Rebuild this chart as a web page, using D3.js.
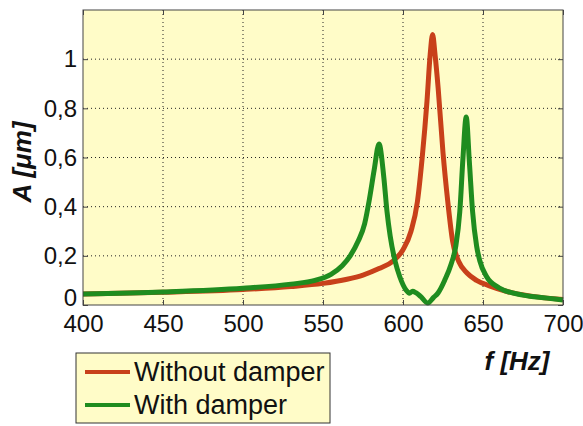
<!DOCTYPE html>
<html>
<head>
<meta charset="utf-8">
<script src="https://cdn.jsdelivr.net/npm/d3@7"></script>
<style>
  body { margin: 0; background: #fff; }
  #vis { width: 583px; height: 426px; }
  text { font-family: Arial, "Liberation Sans", sans-serif; fill: #111; }
</style>
</head>
<body>
<div id="vis"></div>
<script>
// frequency response
var freqNo = [400, 450, 500, 530, 550, 565, 575, 585, 594, 600, 605, 609, 612, 615, 617, 618.5, 620, 622, 625, 628, 631, 635, 640, 646, 654, 665, 680, 700];
var ampNo  = [0.045, 0.052, 0.063, 0.075, 0.088, 0.105, 0.122, 0.148, 0.18, 0.225, 0.30, 0.42, 0.60, 0.83, 1.02, 1.10, 1.02, 0.88, 0.62, 0.42, 0.26, 0.175, 0.13, 0.10, 0.078, 0.055, 0.036, 0.022];

var freqWith = [400, 450, 500, 530, 545, 555, 562, 567, 572, 576, 579, 582, 585, 588, 590, 592, 595, 598, 602, 604, 606, 608, 611, 615.5, 619, 622, 626, 630, 633, 635.5, 637.5, 639.5, 641.5, 643.5, 646, 648, 652, 660, 675, 690, 700];
var ampWith  = [0.045, 0.053, 0.068, 0.085, 0.10, 0.125, 0.16, 0.20, 0.26, 0.33, 0.43, 0.55, 0.655, 0.52, 0.38, 0.28, 0.18, 0.115, 0.06, 0.048, 0.056, 0.05, 0.035, 0.008, 0.03, 0.05, 0.10, 0.165, 0.24, 0.38, 0.60, 0.765, 0.58, 0.38, 0.24, 0.18, 0.118, 0.07, 0.04, 0.028, 0.02];

var xTicks = [400, 450, 500, 550, 600, 650, 700];
var yTicks = [0, 0.2, 0.4, 0.6, 0.8, 1];
var seriesNames = ['Without damper', 'With damper'];
var seriesColours = ['#c8401a', '#1f8c1f'];

var margin = { top: 10, right: 20, bottom: 121, left: 83 };
var width = 583 - margin.left - margin.right;
var height = 426 - margin.top - margin.bottom;

var svg = d3.select('#vis')
    .append('svg')
    .attr('width', 583)
    .attr('height', 426);

var g = svg.append('g')
    .attr('transform', 'translate(' + margin.left + ',' + margin.top + ')');

var x = d3.scaleLinear().domain([400, 700]).range([0, width]);
var y = d3.scaleLinear().domain([0, 1.2]).range([height, 0]);

g.append('rect')
    .attr('width', width)
    .attr('height', height)
    .attr('fill', '#fffcc8');

// dotted grid
g.selectAll('.vgrid')
    .data(xTicks.slice(1, -1))
    .enter().append('line')
    .attr('x1', d => x(d)).attr('x2', d => x(d))
    .attr('y1', 0).attr('y2', height)
    .attr('stroke', '#222').attr('stroke-width', 1)
    .attr('stroke-dasharray', '1,3');

g.selectAll('.hgrid')
    .data(yTicks.slice(1))
    .enter().append('line')
    .attr('x1', 0).attr('x2', width)
    .attr('y1', d => y(d)).attr('y2', d => y(d))
    .attr('stroke', '#222').attr('stroke-width', 1)
    .attr('stroke-dasharray', '1,3');

// curves
var line = d3.line()
    .x(d => x(d[0]))
    .y(d => y(d[1]))
    .curve(d3.curveMonotoneX);

var curves = [d3.zip(freqNo, ampNo), d3.zip(freqWith, ampWith)];

g.selectAll('.curve')
    .data(curves)
    .enter().append('path')
    .attr('class', 'curve')
    .attr('d', line)
    .attr('fill', 'none')
    .attr('stroke', (d, i) => seriesColours[i])
    .attr('stroke-width', 5)
    .attr('stroke-linejoin', 'round');

// axes, ticks inside like matlab
var xAxis = d3.axisBottom(x).tickValues(xTicks).tickSizeInner(-5).tickSizeOuter(0).tickPadding(10);
var yAxis = d3.axisLeft(y).tickValues(yTicks).tickSizeInner(-5).tickSizeOuter(0).tickPadding(6)
    .tickFormat(d => String(d).replace('.', ','));

var gx = g.append('g')
    .attr('transform', 'translate(0,' + height + ')')
    .call(xAxis);
var gy = g.append('g').call(yAxis);
var gxTop = g.append('g').call(d3.axisTop(x).tickValues(xTicks).tickSizeInner(-5).tickSizeOuter(0).tickFormat(''));
var gyRight = g.append('g')
    .attr('transform', 'translate(' + width + ',0)')
    .call(d3.axisRight(y).tickValues(yTicks).tickSizeInner(-5).tickSizeOuter(0).tickFormat(''));

[gx, gy, gxTop, gyRight].forEach(function(a) {
    a.selectAll('.domain').remove();
    a.selectAll('line').attr('stroke', '#444');
});

gx.selectAll('text').attr('font-size', 24).attr('font-family', 'Arial, "Liberation Sans", sans-serif').attr('fill', '#111');
gy.selectAll('text').attr('font-size', 24).attr('font-family', 'Arial, "Liberation Sans", sans-serif').attr('fill', '#111')
    .attr('dy', d => d === 0 ? '-0.0em' : '0.32em');

g.append('rect')
    .attr('width', width)
    .attr('height', height)
    .attr('fill', 'none')
    .attr('stroke', '#444')
    .attr('stroke-width', 1);

// axis titles
svg.append('text')
    .attr('x', 517)
    .attr('y', 370)
    .attr('text-anchor', 'middle')
    .attr('font-size', 26)
    .attr('font-weight', 'bold')
    .attr('font-style', 'italic')
    .text('f [Hz]');

svg.append('text')
    .attr('transform', 'translate(31,162) rotate(-90)')
    .attr('text-anchor', 'middle')
    .attr('font-size', 26)
    .attr('font-weight', 'bold')
    .attr('font-style', 'italic')
    .text('A [\u03bcm]');

// legend
var legend = svg.append('g').attr('transform', 'translate(76,353)');
legend.append('rect')
    .attr('width', 254)
    .attr('height', 70)
    .attr('fill', '#fffcc8')
    .attr('stroke', '#333')
    .attr('stroke-width', 1);

var items = legend.selectAll('.item')
    .data(seriesNames)
    .enter().append('g')
    .attr('transform', (d, i) => 'translate(0,' + (19 + i * 33) + ')');

items.append('line')
    .attr('x1', 9).attr('x2', 54)
    .attr('stroke', (d, i) => seriesColours[i])
    .attr('stroke-width', 4);

items.append('text')
    .attr('x', 58)
    .attr('y', 9)
    .attr('font-size', 27)
    .text(d => d);
</script>
</body>
</html>
